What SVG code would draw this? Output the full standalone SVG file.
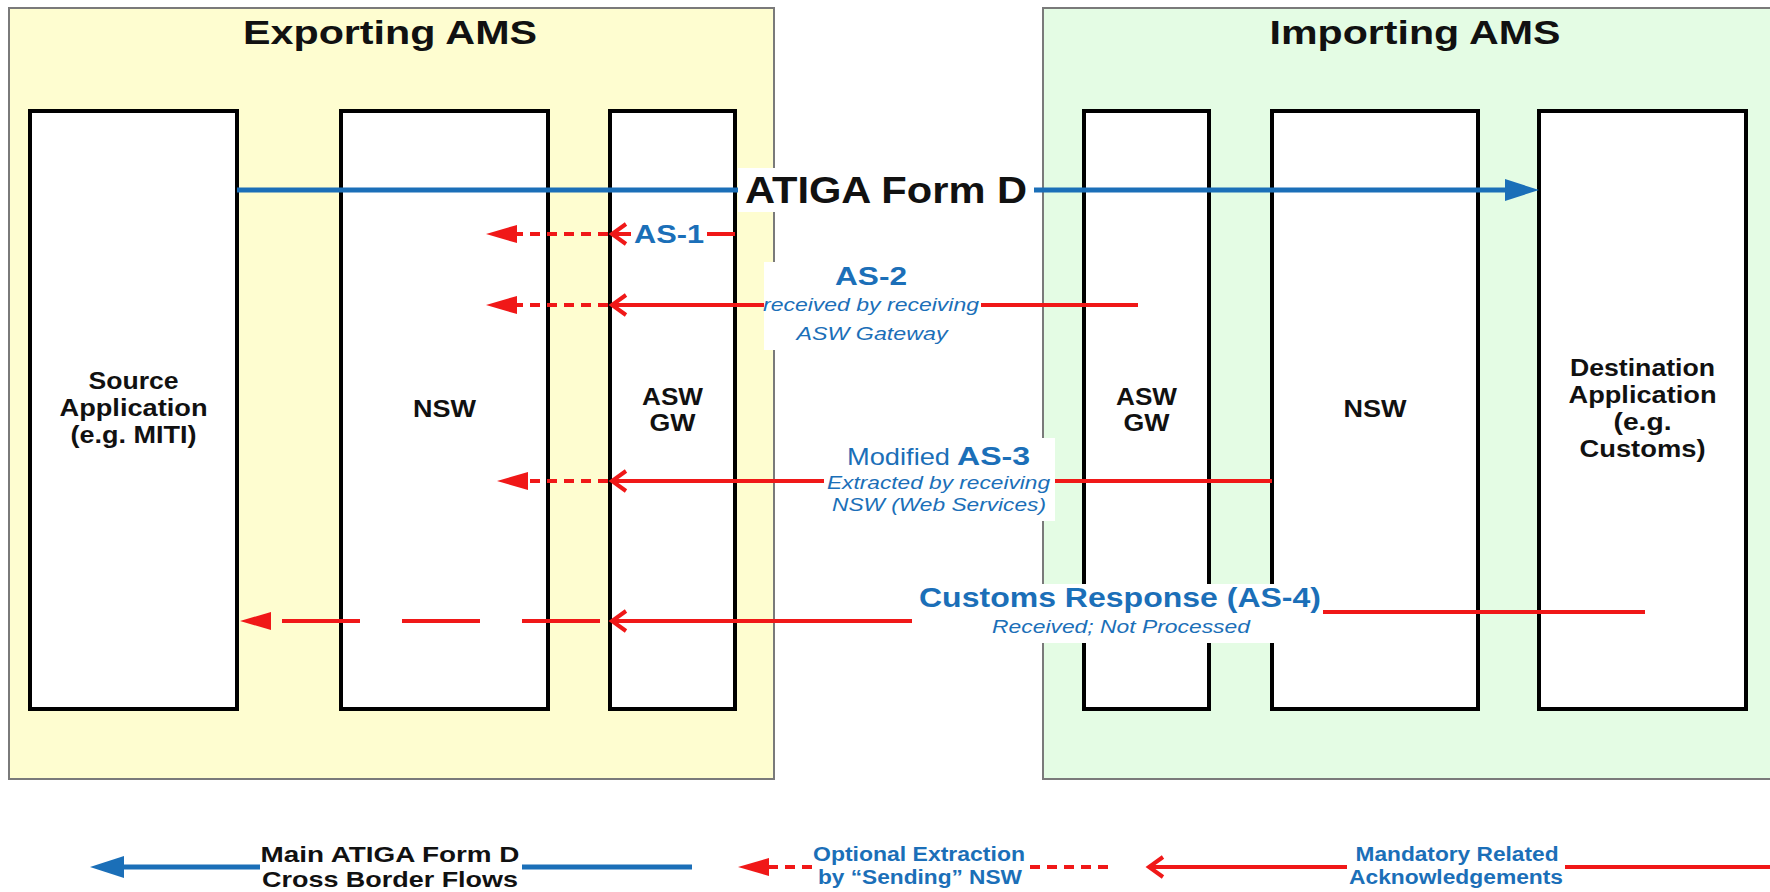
<svg xmlns="http://www.w3.org/2000/svg" width="1770" height="892" viewBox="0 0 1770 892">
<style>
.panel-y{fill:#FEFDD0;stroke:#7a7a7a;stroke-width:2}
.panel-g{fill:#E4FCE4;stroke:#7a7a7a;stroke-width:2}
.box{fill:#fff;stroke:#000;stroke-width:4}
text{font-family:"Liberation Sans",Arial,Helvetica,sans-serif;font-weight:bold;fill:#111}
.title{font-size:33px;text-anchor:middle}
.node{font-size:23px;text-anchor:middle}
.blue{fill:#1B6FB8}
.it{font-style:italic;font-weight:normal}
.reg{font-weight:normal}
.mid{text-anchor:middle}
.red{stroke:#F01818;stroke-width:4;fill:none}
.dot{stroke-dasharray:10 7}
.bline{stroke:#1B6FB8;stroke-width:5;fill:none}
.bg{fill:#fff}
</style>
<defs>
<marker id="tri-red" viewBox="0 -9 31 18" refX="0" refY="0" markerWidth="31" markerHeight="18" markerUnits="userSpaceOnUse" orient="auto"><path d="M0,-9 L31,0 L0,9 z" fill="#F01818"/></marker>
<marker id="open-red" viewBox="-20 -14 26 28" refX="0" refY="0" markerWidth="26" markerHeight="28" markerUnits="userSpaceOnUse" orient="auto"><path d="M-14,-10 L0,0 L-14,10" fill="none" stroke="#F01818" stroke-width="4"/></marker>
<marker id="tri-blue" viewBox="0 -11 34 22" refX="0" refY="0" markerWidth="34" markerHeight="22" markerUnits="userSpaceOnUse" orient="auto"><path d="M0,-11 L34,0 L0,11 z" fill="#1B6FB8"/></marker>
</defs>
<rect x="0" y="0" width="1770" height="892" fill="#fff"/>
<g id="panel-exporting">
<rect class="panel-y" x="9" y="8" width="765" height="771"/>
<text class="title" x="390" y="44" textLength="294" lengthAdjust="spacingAndGlyphs">Exporting AMS</text>
</g>
<g id="panel-importing">
<rect class="panel-g" x="1043" y="8" width="740" height="771"/>
<text class="title" x="1415" y="44" textLength="291" lengthAdjust="spacingAndGlyphs">Importing AMS</text>
</g>
<g id="source-app">
<rect class="box" x="30" y="111" width="207" height="598"/>
<text class="node" x="133.5" y="389" textLength="90" lengthAdjust="spacingAndGlyphs">Source</text>
<text class="node" x="133.5" y="416" textLength="148" lengthAdjust="spacingAndGlyphs">Application</text>
<text class="node" x="133.5" y="443" textLength="126" lengthAdjust="spacingAndGlyphs">(e.g. MITI)</text>
</g>
<g id="nsw-export">
<rect class="box" x="341" y="111" width="207" height="598"/>
<text class="node" x="444.5" y="417" textLength="63" lengthAdjust="spacingAndGlyphs">NSW</text>
</g>
<g id="asw-gw-export">
<rect class="box" x="610" y="111" width="125" height="598"/>
<text class="node" x="672.5" y="405" textLength="61" lengthAdjust="spacingAndGlyphs">ASW</text>
<text class="node" x="672.5" y="431" textLength="46" lengthAdjust="spacingAndGlyphs">GW</text>
</g>
<g id="asw-gw-import">
<rect class="box" x="1084" y="111" width="125" height="598"/>
<text class="node" x="1146.5" y="405" textLength="61" lengthAdjust="spacingAndGlyphs">ASW</text>
<text class="node" x="1146.5" y="431" textLength="46" lengthAdjust="spacingAndGlyphs">GW</text>
</g>
<g id="nsw-import">
<rect class="box" x="1272" y="111" width="206" height="598"/>
<text class="node" x="1375" y="417" textLength="63" lengthAdjust="spacingAndGlyphs">NSW</text>
</g>
<g id="destination-app">
<rect class="box" x="1539" y="111" width="207" height="598"/>
<text class="node" x="1642.5" y="376" textLength="145" lengthAdjust="spacingAndGlyphs">Destination</text>
<text class="node" x="1642.5" y="403" textLength="148" lengthAdjust="spacingAndGlyphs">Application</text>
<text class="node" x="1642.5" y="430" textLength="58" lengthAdjust="spacingAndGlyphs">(e.g.</text>
<text class="node" x="1642.5" y="457" textLength="126" lengthAdjust="spacingAndGlyphs">Customs)</text>
</g>
<g id="connectors">
<!-- ATIGA Form D -->
<path class="bline" d="M237,190 H1505" marker-end="url(#tri-blue)"/>
<rect class="bg" x="738" y="168" width="296" height="44"/>
<text class="mid" x="886" y="203" font-size="36" textLength="282" lengthAdjust="spacingAndGlyphs">ATIGA Form D</text>
<!-- AS-1 -->
<path class="red" d="M735,234 H612" marker-end="url(#open-red)"/>
<path class="red dot" d="M608,234 H517" marker-end="url(#tri-red)"/>
<rect class="bg" x="631" y="220" width="76" height="28"/>
<text class="blue mid" x="669" y="243" font-size="26" textLength="70" lengthAdjust="spacingAndGlyphs">AS-1</text>
<!-- AS-2 -->
<path class="red" d="M1138,305 H612" marker-end="url(#open-red)"/>
<path class="red dot" d="M608,305 H517" marker-end="url(#tri-red)"/>
<rect class="bg" x="764" y="262" width="217" height="88"/>
<text class="blue mid" x="871" y="285" font-size="26" textLength="72" lengthAdjust="spacingAndGlyphs">AS-2</text>
<text class="blue it mid" x="871" y="311" font-size="19" textLength="216" lengthAdjust="spacingAndGlyphs">received by receiving</text>
<text class="blue it mid" x="872" y="340" font-size="19" textLength="151" lengthAdjust="spacingAndGlyphs">ASW Gateway</text>
<!-- AS-3 -->
<path class="red" d="M1272,481 H612" marker-end="url(#open-red)"/>
<path class="red dot" d="M608,481 H528" marker-end="url(#tri-red)"/>
<rect class="bg" x="824" y="438" width="231" height="83"/>
<text class="blue" x="847" y="465" font-size="24"><tspan class="reg" textLength="103" lengthAdjust="spacingAndGlyphs">Modified</tspan> <tspan x="957" font-size="26" textLength="73" lengthAdjust="spacingAndGlyphs">AS-3</tspan></text>
<text class="blue it mid" x="938.5" y="489" font-size="19" textLength="223" lengthAdjust="spacingAndGlyphs">Extracted by receiving</text>
<text class="blue it mid" x="939" y="511" font-size="19" textLength="214" lengthAdjust="spacingAndGlyphs">NSW (Web Services)</text>
<!-- AS-4 -->
<path class="red" d="M1645,612 H1323"/>
<path class="red" d="M912,621 H612" marker-end="url(#open-red)"/>
<path class="red" d="M600,621 H271" stroke-dasharray="78 42" marker-end="url(#tri-red)"/>
<rect class="bg" x="912" y="584" width="411" height="59"/>
<text class="blue mid" x="1120" y="607" font-size="27" textLength="402" lengthAdjust="spacingAndGlyphs">Customs Response (AS-4)</text>
<text class="blue it mid" x="1121" y="633" font-size="19" textLength="258" lengthAdjust="spacingAndGlyphs">Received; Not Processed</text>
</g>
<g id="legend">
<path class="bline" d="M260,867 H124" marker-end="url(#tri-blue)"/>
<path class="bline" d="M692,867 H522"/>
<text class="mid" x="390" y="862" font-size="22" textLength="259" lengthAdjust="spacingAndGlyphs">Main ATIGA Form D</text>
<text class="mid" x="390" y="887" font-size="22" textLength="256" lengthAdjust="spacingAndGlyphs">Cross Border Flows</text>
<path class="red dot" d="M812,867 H769" marker-end="url(#tri-red)"/>
<path class="red dot" d="M1108,867 H1026"/>
<text class="blue mid" x="919" y="861" font-size="20" textLength="212" lengthAdjust="spacingAndGlyphs">Optional Extraction</text>
<text class="blue mid" x="920" y="884" font-size="20" textLength="204" lengthAdjust="spacingAndGlyphs">by “Sending” NSW</text>
<path class="red" d="M1347,867 H1149" marker-end="url(#open-red)"/>
<path class="red" d="M1770,867 H1565"/>
<text class="blue mid" x="1457" y="861" font-size="20" textLength="203" lengthAdjust="spacingAndGlyphs">Mandatory Related</text>
<text class="blue mid" x="1456" y="884" font-size="20" textLength="214" lengthAdjust="spacingAndGlyphs">Acknowledgements</text>
</g>
</svg>
